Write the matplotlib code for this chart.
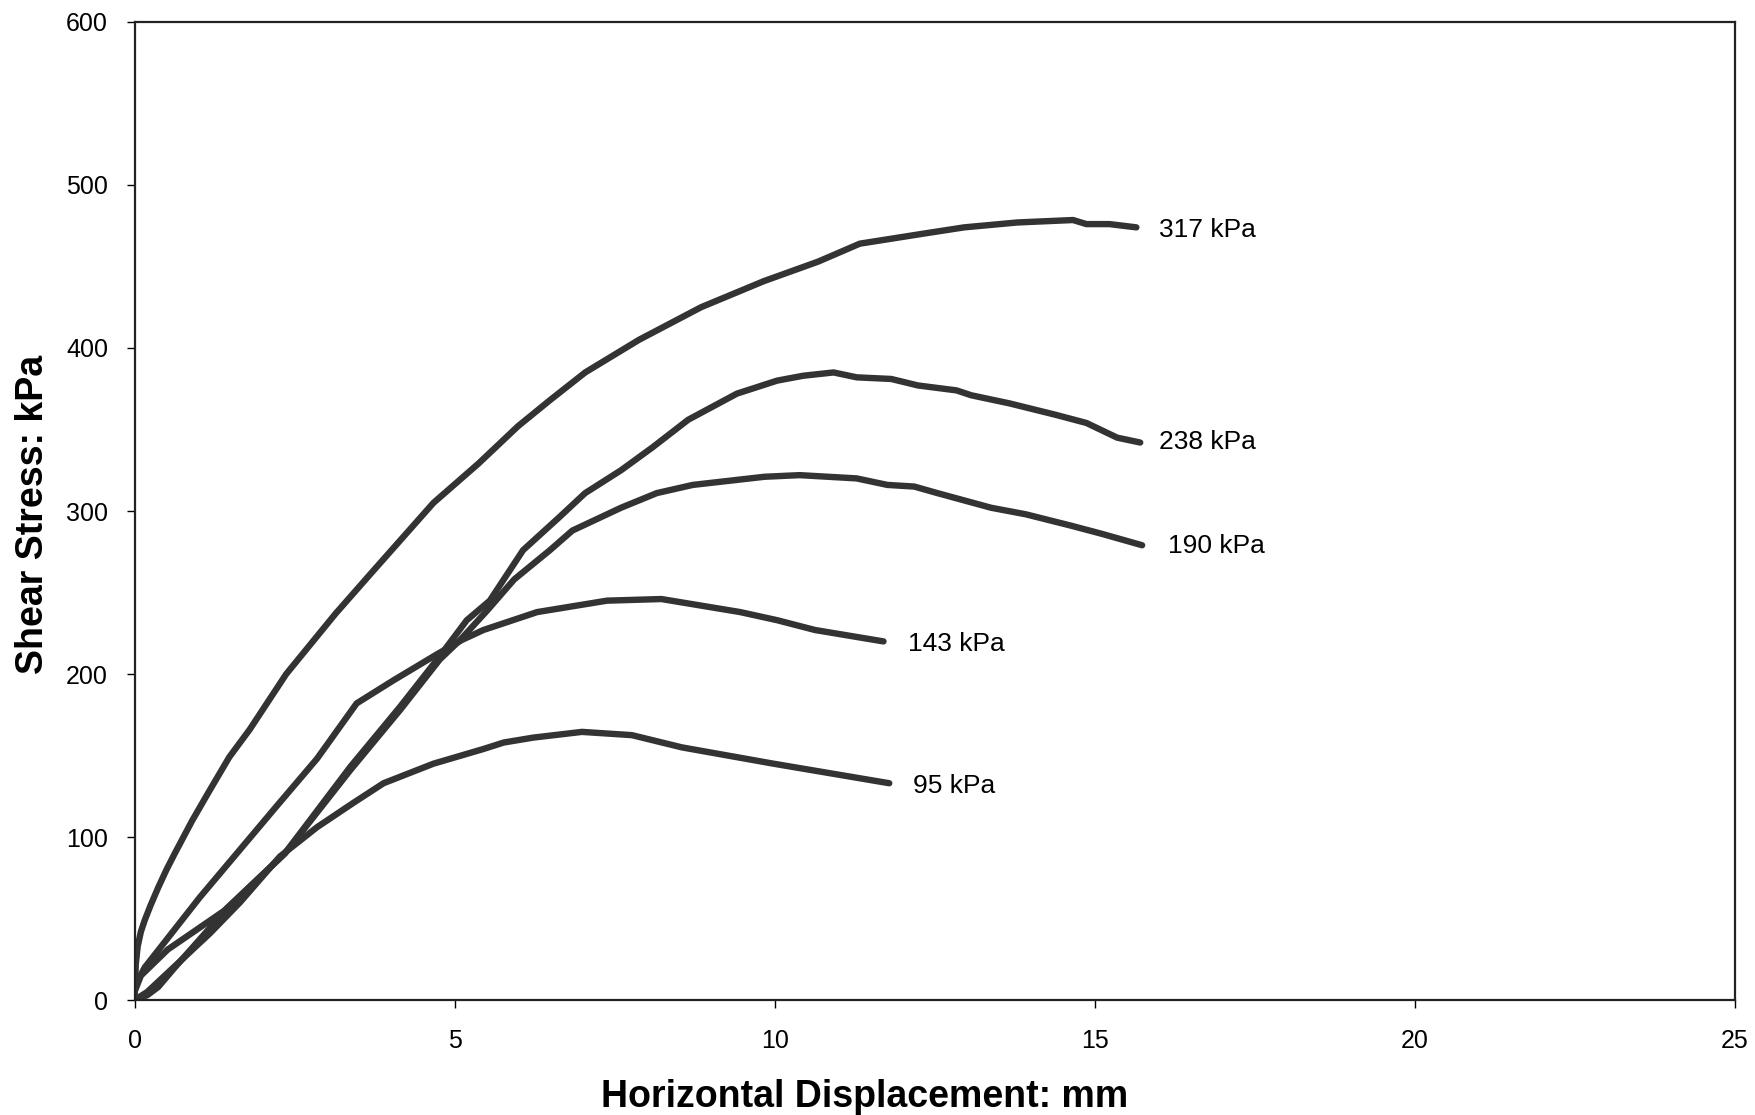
import numpy as np
import matplotlib
matplotlib.use("Agg")
import matplotlib.pyplot as plt

plt.rcParams['font.family'] = ['Liberation Sans', 'DejaVu Sans']

# normal stress series (x: mm, y: kPa)
x_317 = [0, 0.02, 0.05, 0.10, 0.16, 0.25, 0.37, 0.50, 0.63, 0.90, 1.15, 1.48, 1.80,
         2.37, 3.14, 3.70, 4.67, 5.37, 5.99, 6.49, 7.04, 7.88, 8.85, 9.83, 10.68,
         11.33, 12.30, 12.96, 13.79, 14.66, 14.87, 15.23, 15.65]
y_317 = [0, 22, 33, 42, 49, 58, 69, 80, 90, 110, 127, 149, 166,
         200, 237, 262, 305, 329, 352, 368, 385, 405, 425, 441, 453,
         464, 470, 474, 477, 478.5, 476, 476, 474]

x_238 = [0, 0.2, 0.37, 0.63, 1.15, 1.41, 2.35, 3.37, 4.15, 4.77, 5.19, 5.55, 6.07,
         6.63, 7.04, 7.60, 8.09, 8.65, 9.41, 10.04, 10.45, 10.92, 11.28, 11.82,
         12.24, 12.84, 13.07, 13.67, 14.39, 14.87, 15.35, 15.71]
y_238 = [0, 3, 8, 20, 43, 55, 90, 143, 180, 211, 233, 245, 276,
         296, 311, 325, 339, 356, 372, 380, 383, 385, 382, 381,
         377, 374, 371, 366, 359, 354, 345, 342]

x_190 = [0, 0.1, 0.52, 1.41, 2.35, 3.37, 4.15, 4.77, 5.09, 5.51, 5.93, 6.49, 6.84,
         7.60, 8.16, 8.72, 9.84, 10.39, 11.28, 11.76, 12.18, 12.54, 13.38, 13.92,
         14.63, 15.11, 15.74]
y_190 = [5, 15, 31, 55, 90, 141, 178, 209, 221, 239, 258, 276, 288,
         302, 311, 316, 321, 322, 320, 316, 315, 311, 302, 298,
         291, 286, 279]

x_143 = [0, 0.16, 1.02, 2.20, 2.85, 3.47, 4.04, 4.72, 5.12, 5.45, 6.29, 7.38, 8.23,
         9.46, 10.04, 10.63, 11.70]
y_143 = [8, 20, 63, 118, 148, 182, 196, 212, 221, 227, 238, 245, 246,
         238, 233, 227, 220]

x_95 = [0, 0.2, 0.5, 1.18, 1.65, 2.27, 2.85, 3.42, 3.89, 4.67, 5.45, 5.77, 6.23,
        6.99, 7.77, 8.55, 9.98, 11.79]
y_95 = [0, 5, 16, 41, 60, 88, 106, 121, 133, 145, 154, 158, 161,
        164.5, 162.5, 155, 145, 133]

labels = ['317 kPa', '238 kPa', '190 kPa', '143 kPa', '95 kPa']
label_x = [16.01, 16.01, 16.15, 12.08, 12.16]
label_y = [468, 338, 274, 214, 127]

fig = plt.figure(figsize=(17.56, 11.15), dpi=100)
ax = fig.add_axes([0.0766, 0.1031, 0.9114, 0.8772])

line_color = '#333333'
for xs, ys in [(x_317, y_317), (x_238, y_238), (x_190, y_190), (x_143, y_143), (x_95, y_95)]:
    ax.plot(xs, ys, color=line_color, lw=4.6, solid_capstyle='round', solid_joinstyle='round')

for lab, lx, ly in zip(labels, label_x, label_y):
    ax.text(lx, ly, lab, fontsize=19, va='baseline', ha='left', color='black')

ax.set_xlim(0, 25)
ax.set_ylim(0, 600)
ax.set_xticks([0, 5, 10, 15, 20, 25])
ax.set_yticks([0, 100, 200, 300, 400, 500, 600])
ax.tick_params(axis='both', direction='out', length=6, width=1, labelsize=18, colors='black')
ax.tick_params(axis='x', pad=15)
ax.tick_params(axis='y', pad=13)
for sp in ax.spines.values():
    sp.set_linewidth(1.6)
    sp.set_color('#222222')

ax.set_xlabel('Horizontal Displacement: mm', fontsize=27, fontweight='bold')
ax.set_ylabel('Shear Stress: kPa', fontsize=27, fontweight='bold')
ax.xaxis.set_label_coords(0.456, -0.081)
ax.yaxis.set_label_coords(-0.052, 0.497)

fig.savefig('out.png', dpi=100)
